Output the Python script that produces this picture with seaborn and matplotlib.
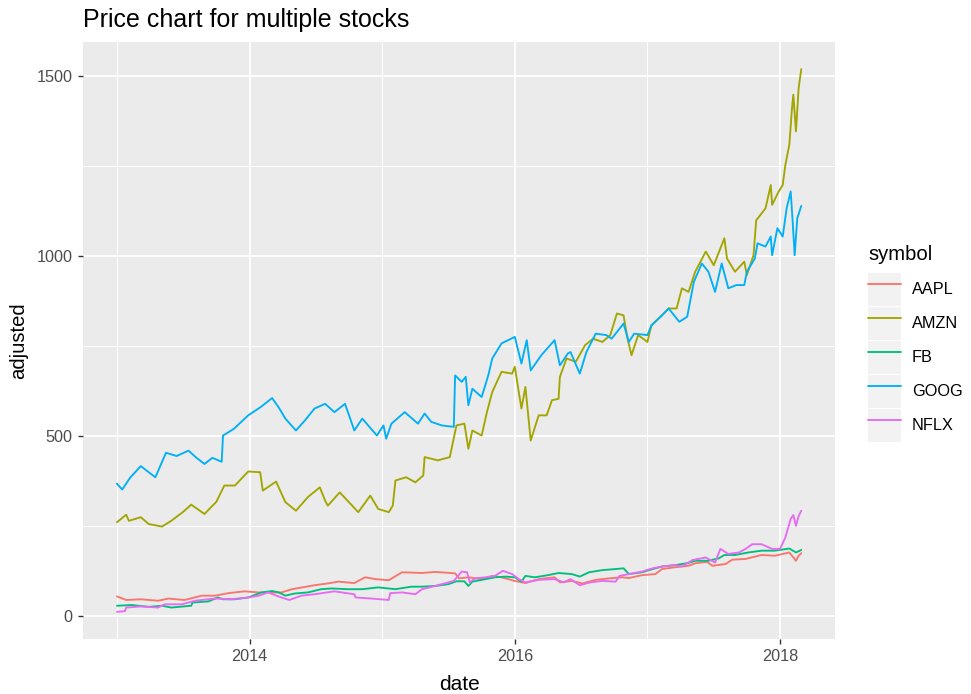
import pandas as pd
import seaborn as sns
import matplotlib.pyplot as plt
from matplotlib.patches import Patch
from matplotlib.lines import Line2D
from matplotlib.legend_handler import HandlerTuple

# values (date as decimal year, adjusted price)
symbols = ['AAPL', 'AMZN', 'FB', 'GOOG', 'NFLX']
colors = ['#F8766D', '#A3A500', '#00BF7D', '#00B0F6', '#E76BF3']

aapl_t = [2013.00, 2013.07, 2013.18, 2013.31, 2013.39, 2013.51, 2013.64, 2013.74, 2013.84, 2013.96,
          2014.07, 2014.24, 2014.32, 2014.49, 2014.59, 2014.67, 2014.79, 2014.87, 2014.95, 2015.05,
          2015.15, 2015.30, 2015.40, 2015.55, 2015.58, 2015.65, 2015.75, 2015.83, 2015.90, 2016.00,
          2016.08, 2016.18, 2016.30, 2016.34, 2016.43, 2016.51, 2016.61, 2016.71, 2016.81, 2016.86,
          2016.96, 2017.06, 2017.11, 2017.21, 2017.31, 2017.36, 2017.45, 2017.49, 2017.59, 2017.64,
          2017.74, 2017.86, 2017.96, 2018.07, 2018.12, 2018.14, 2018.16]
aapl_v = [55, 45, 47, 43, 49, 45, 57, 57, 64, 69,
          66, 66, 75, 86, 91, 96, 92, 108, 103, 100,
          122, 120, 123, 119, 105, 108, 103, 112, 108, 98,
          92, 103, 108, 94, 98, 91, 101, 105, 108, 106,
          114, 117, 131, 136, 140, 147, 151, 140, 145, 157,
          159, 170, 168, 177, 154, 168, 175]

amzn_t = [2013.00, 2013.07, 2013.09, 2013.18, 2013.24, 2013.34, 2013.41, 2013.50, 2013.56, 2013.66,
          2013.75, 2013.81, 2013.89, 2013.99, 2014.08, 2014.10, 2014.20, 2014.27, 2014.35, 2014.44,
          2014.53, 2014.57, 2014.59, 2014.68, 2014.82, 2014.91, 2014.97, 2015.05, 2015.08, 2015.10,
          2015.18, 2015.25, 2015.31, 2015.32, 2015.42, 2015.51, 2015.56, 2015.62, 2015.65, 2015.68,
          2015.75, 2015.79, 2015.83, 2015.90, 2015.98, 2016.00, 2016.03, 2016.05, 2016.08, 2016.12,
          2016.18, 2016.24, 2016.28, 2016.33, 2016.34, 2016.39, 2016.46, 2016.53, 2016.59, 2016.66,
          2016.72, 2016.77, 2016.82, 2016.85, 2016.88, 2016.93, 2017.00, 2017.03, 2017.11, 2017.16,
          2017.22, 2017.26, 2017.31, 2017.36, 2017.44, 2017.50, 2017.58, 2017.60, 2017.66, 2017.73,
          2017.75, 2017.80, 2017.82, 2017.89, 2017.93, 2017.94, 2017.99, 2018.02, 2018.04, 2018.07,
          2018.09, 2018.10, 2018.12, 2018.14, 2018.16]
amzn_v = [261, 282, 265, 275, 256, 249, 265, 290, 310, 284,
          318, 363, 363, 402, 400, 349, 374, 317, 293, 331,
          358, 321, 307, 344, 289, 335, 298, 289, 307, 377,
          386, 372, 391, 442, 433, 442, 530, 535, 465, 516,
          502, 567, 623, 679, 674, 693, 623, 577, 637, 488,
          558, 558, 600, 604, 665, 716, 707, 753, 771, 762,
          781, 841, 836, 771, 725, 781, 762, 808, 836, 855,
          855, 911, 901, 957, 1013, 975, 1050, 994, 957, 985,
          948, 1003, 1100, 1133, 1198, 1143, 1180, 1198, 1254, 1310,
          1412, 1449, 1347, 1467, 1520]

fb_t = [2013.00, 2013.11, 2013.24, 2013.34, 2013.41, 2013.56, 2013.57, 2013.69, 2013.76, 2013.80,
        2013.89, 2013.99, 2014.09, 2014.17, 2014.22, 2014.27, 2014.34, 2014.44, 2014.54, 2014.62,
        2014.74, 2014.85, 2014.97, 2015.10, 2015.22, 2015.30, 2015.40, 2015.50, 2015.56, 2015.62,
        2015.65, 2015.68, 2015.78, 2015.85, 2015.93, 2016.00, 2016.05, 2016.08, 2016.15, 2016.25,
        2016.33, 2016.43, 2016.49, 2016.56, 2016.66, 2016.76, 2016.82, 2016.86, 2016.96, 2017.04,
        2017.11, 2017.21, 2017.31, 2017.36, 2017.46, 2017.54, 2017.58, 2017.66, 2017.76, 2017.86,
        2017.96, 2018.07, 2018.12, 2018.16]
fb_v = [29, 31, 26, 29, 24, 29, 38, 41, 52, 47,
        47, 52, 66, 70, 66, 57, 63, 66, 75, 77,
        75, 75, 80, 75, 82, 82, 84, 89, 97, 97,
        84, 96, 103, 108, 110, 108, 96, 112, 108, 114,
        120, 117, 110, 122, 128, 131, 133, 117, 122, 131,
        138, 142, 148, 154, 154, 161, 170, 170, 177, 182,
        182, 188, 177, 184]

goog_t = [2013.00, 2013.04, 2013.10, 2013.18, 2013.24, 2013.29, 2013.37, 2013.45, 2013.54, 2013.60,
          2013.66, 2013.72, 2013.79, 2013.80, 2013.88, 2013.99, 2014.08, 2014.17, 2014.22, 2014.27,
          2014.35, 2014.42, 2014.49, 2014.57, 2014.64, 2014.72, 2014.79, 2014.85, 2014.96, 2015.01,
          2015.03, 2015.07, 2015.17, 2015.27, 2015.32, 2015.37, 2015.45, 2015.54, 2015.55, 2015.60,
          2015.63, 2015.65, 2015.68, 2015.75, 2015.80, 2015.83, 2015.90, 2016.00, 2016.05, 2016.09,
          2016.12, 2016.20, 2016.30, 2016.34, 2016.40, 2016.42, 2016.49, 2016.54, 2016.61, 2016.69,
          2016.73, 2016.82, 2016.86, 2016.90, 2017.00, 2017.03, 2017.11, 2017.16, 2017.24, 2017.30,
          2017.35, 2017.41, 2017.46, 2017.51, 2017.56, 2017.61, 2017.67, 2017.73, 2017.75, 2017.81,
          2017.83, 2017.89, 2017.93, 2017.94, 2017.98, 2018.02, 2018.05, 2018.08, 2018.095, 2018.11,
          2018.13, 2018.16]
goog_v = [368, 352, 385, 417, 400, 386, 454, 445, 460, 440,
          423, 440, 429, 502, 520, 558, 580, 606, 580, 549,
          516, 545, 577, 590, 567, 590, 516, 549, 502, 530,
          493, 535, 567, 535, 563, 540, 530, 526, 669, 651,
          665, 586, 632, 609, 669, 716, 758, 776, 702, 767,
          683, 725, 767, 697, 730, 734, 674, 734, 785, 781,
          771, 813, 762, 785, 781, 808, 836, 855, 818, 832,
          929, 980, 957, 901, 980, 911, 920, 920, 957, 994,
          1036, 1027, 1055, 1003, 1078, 1055, 1134, 1180, 1097, 1003,
          1106, 1140]

nflx_t = [2013.00, 2013.06, 2013.07, 2013.18, 2013.31, 2013.36, 2013.49, 2013.59, 2013.74, 2013.86,
          2013.99, 2014.07, 2014.14, 2014.24, 2014.30, 2014.39, 2014.49, 2014.64, 2014.79, 2014.80,
          2014.92, 2015.05, 2015.06, 2015.15, 2015.25, 2015.30, 2015.40, 2015.50, 2015.54, 2015.60,
          2015.64, 2015.66, 2015.70, 2015.78, 2015.85, 2015.91, 2015.98, 2016.03, 2016.08, 2016.18,
          2016.30, 2016.37, 2016.42, 2016.49, 2016.57, 2016.66, 2016.76, 2016.79, 2016.86, 2016.96,
          2017.04, 2017.11, 2017.21, 2017.26, 2017.34, 2017.44, 2017.51, 2017.55, 2017.61, 2017.69,
          2017.74, 2017.79, 2017.86, 2017.94, 2018.00, 2018.04, 2018.08, 2018.10, 2018.12, 2018.14,
          2018.16]
nflx_v = [12, 14, 24, 27, 24, 33, 33, 43, 49, 47,
          52, 57, 66, 52, 45, 57, 61, 69, 61, 52,
          49, 45, 64, 66, 61, 75, 84, 94, 98, 124,
          122, 94, 105, 108, 112, 126, 117, 103, 94, 101,
          103, 94, 103, 86, 94, 98, 96, 112, 117, 124,
          133, 138, 142, 138, 156, 163, 149, 187, 173, 177,
          187, 200, 200, 187, 187, 219, 270, 281, 251, 278,
          293]

series = {'AAPL': (aapl_t, aapl_v), 'AMZN': (amzn_t, amzn_v), 'FB': (fb_t, fb_v),
          'GOOG': (goog_t, goog_v), 'NFLX': (nflx_t, nflx_v)}
df = pd.concat([pd.DataFrame({'date': t, 'adjusted': v, 'symbol': s}) for s, (t, v) in series.items()],
               ignore_index=True)

if __name__ == '__main__':
    sns.set_style('darkgrid', {'axes.facecolor': '#EBEBEB', 'grid.color': 'white'})
    plt.rcParams['font.family'] = ['Liberation Sans', 'DejaVu Sans']

    fig = plt.figure(figsize=(9.71, 6.94), dpi=100)
    ax = fig.add_axes([0.08517, 0.07925, 0.77528, 0.86023])

    sns.lineplot(df, x='date', y='adjusted', hue='symbol', hue_order=symbols, palette=colors,
                 estimator=None, linewidth=1.35, legend=False, ax=ax)
    ax.margins(x=0.05, y=0.05)

    ax.set_xticks([2014, 2016, 2018], ['2014', '2016', '2018'])
    ax.set_xticks([2013, 2015, 2017], minor=True)
    ax.set_yticks([0, 500, 1000, 1500], ['0', '500', '1000', '1500'])
    ax.set_yticks([250, 750, 1250], minor=True)
    ax.grid(which='major', color='white', linewidth=1.35)
    ax.grid(which='minor', color='white', linewidth=0.7)
    ax.tick_params(which='major', length=3.6, width=1.0, color='#333333', labelcolor='#4D4D4D',
                   labelsize=11.7, pad=3.5, bottom=True, left=True)
    ax.tick_params(which='minor', length=0, bottom=False, left=False)
    for sp in ax.spines.values():
        sp.set_visible(False)

    ax.set_xlabel('date', fontsize=15, color='black', labelpad=8)
    ax.set_ylabel('adjusted', fontsize=14.6, color='black', labelpad=6)
    ax.set_title('Price chart for multiple stocks', loc='left', fontsize=18, color='black', pad=10.8)

    # ggplot-style legend keys: grey square with the line on top
    handles = [(Patch(facecolor='#F2F2F2', edgecolor='none'), Line2D([], [], color=c, linewidth=1.35))
               for c in colors]
    leg = fig.legend(handles, symbols, handler_map={tuple: HandlerTuple(ndivide=1, pad=0)},
                     loc='upper left', bbox_to_anchor=(868 / 971, 1 - 245 / 694), frameon=False,
                     title='symbol', title_fontsize=14.6, fontsize=11.7, alignment='left',
                     handlelength=2.03, handleheight=2.75, labelspacing=0.06, handletextpad=0.66,
                     borderpad=0, borderaxespad=0)
    leg.get_title().set_color('black')
    for txt in leg.get_texts():
        txt.set_color('black')
    leg._legend_box.sep = 6.5

    plt.savefig('out.png', dpi=100)
